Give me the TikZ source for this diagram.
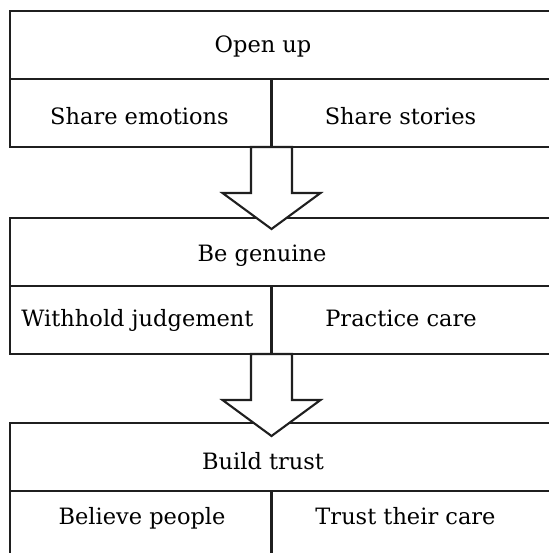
\documentclass[tikz,border=0pt]{standalone}
\usepackage{fontspec}
\setmainfont{DejaVu Serif}

\begin{document}
\begin{tikzpicture}[x=1pt,y=-1pt,line width=2.1pt,
  every node/.style={font=\fontsize{22.5}{27}\selectfont, anchor=base, inner sep=0pt},
  tier/.style={draw=black!88},
  bigarrow/.style={draw=black!88, fill=white, line join=miter}]
\useasboundingbox (0,0) rectangle (548,553);

% three tiers: a heading row over two cells
\foreach \ty in {11,218,423}{
  \draw[tier] (560,\ty) -| (10,\ty+136) -- (560,\ty+136);
  \draw[tier] (10,\ty+68) -- (560,\ty+68);
  \draw[tier] (271.5,\ty+68) -- (271.5,\ty+136);
}

\node (open)      at (263,53)    {Open up};
\node (emotions)  at (139.5,125) {Share emotions};
\node (stories)   at (400.5,125) {Share stories};

\node (genuine)   at (262,261.5) {Be genuine};
\node (withhold)  at (137.5,326.5) {Withhold judgement};
\node (practice)  at (401,326.5) {Practice care};

\node (trust)     at (263,469)   {Build trust};
\node (believe)   at (142,524)   {Believe people};
\node (theircare) at (405.5,524) {Trust their care};

% block arrows between the tiers
\coordinate (a1) at (271.5,147);
\coordinate (a1tip) at (271.5,229);
\coordinate (a2) at (271.5,354);
\coordinate (a2tip) at (271.5,436);
\draw[bigarrow] (a1) ++(-20.5,0) -- ++(0,46) -- ++(-28.5,0) -- (a1tip)
  -- ++(49,-36) -- ++(-28.5,0) -- ++(0,-46) -- cycle;
\draw[bigarrow] (a2) ++(-20.5,0) -- ++(0,46) -- ++(-28.5,0) -- (a2tip)
  -- ++(49,-36) -- ++(-28.5,0) -- ++(0,-46) -- cycle;
\end{tikzpicture}
\end{document}
